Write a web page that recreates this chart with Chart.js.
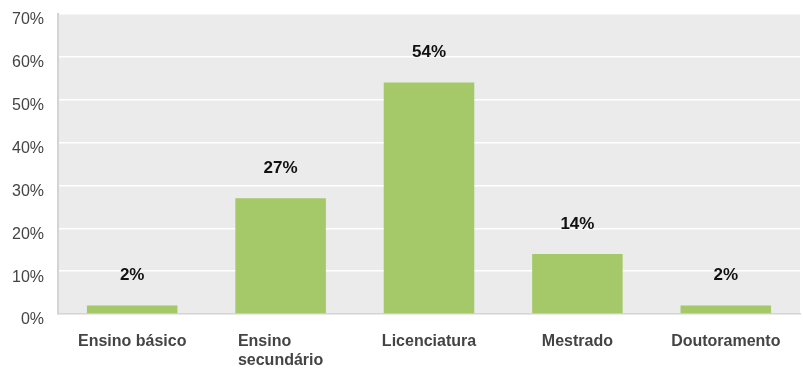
<!DOCTYPE html>
<html>
<head>
<meta charset="utf-8">
<script src="https://cdn.jsdelivr.net/npm/chart.js@4.4.1/dist/chart.umd.min.js"></script>
<style>
  html, body { margin: 0; padding: 0; background: #fff; }
  #wrap { width: 803px; height: 370px; }
</style>
</head>
<body>
<div id="wrap"><canvas id="grafico"></canvas></div>
<script>
const categorias = ["Ensino básico", ["Ensino", "secundário"], "Licenciatura", "Mestrado", "Doutoramento"];
const percentagens = [2, 27, 54, 14, 2];
const ticksY = [0, 10, 20, 30, 40, 50, 60, 70];

const corBarra = "#a5c968";
const corFundo = "#ebebeb";
const fonte = "'Liberation Sans', Arial, sans-serif";

// fundo cinzento da área do gráfico
const fundoArea = {
  id: "fundoArea",
  beforeDraw(chart) {
    const { ctx, chartArea: a } = chart;
    ctx.save();
    ctx.fillStyle = corFundo;
    ctx.fillRect(a.left, a.top, a.right - a.left, a.bottom - a.top);
    ctx.restore();
  }
};

// etiquetas de valor por cima das barras
const etiquetasValor = {
  id: "etiquetasValor",
  afterDatasetsDraw(chart) {
    const { ctx } = chart;
    const meta = chart.getDatasetMeta(0);
    ctx.save();
    ctx.font = "bold 17px " + fonte;
    ctx.fillStyle = "#111";
    ctx.textAlign = "center";
    ctx.textBaseline = "middle";
    meta.data.forEach((bar, i) => {
      ctx.fillText(percentagens[i] + "%", bar.x, bar.y - 30);
    });
    ctx.restore();
  }
};

// categorias do eixo x: bloco centrado, linhas alinhadas à esquerda
const etiquetasCategoria = {
  id: "etiquetasCategoria",
  afterDraw(chart) {
    const { ctx } = chart;
    const x = chart.scales.x;
    ctx.save();
    ctx.font = "bold 16px " + fonte;
    ctx.fillStyle = "#444";
    ctx.textAlign = "left";
    ctx.textBaseline = "middle";
    categorias.forEach((cat, i) => {
      const linhas = Array.isArray(cat) ? cat : [cat];
      const larg = Math.max(...linhas.map(l => ctx.measureText(l).width));
      const cx = x.getPixelForValue(i);
      linhas.forEach((l, j) => {
        ctx.fillText(l, cx - larg / 2, x.top + 28 + j * 19);
      });
    });
    ctx.restore();
  }
};

new Chart(document.getElementById("grafico"), {
  type: "bar",
  data: {
    labels: categorias,
    datasets: [{
      data: percentagens,
      backgroundColor: corBarra,
      borderWidth: 0,
      categoryPercentage: 0.61,
      barPercentage: 1
    }]
  },
  options: {
    responsive: true,
    maintainAspectRatio: false,
    animation: false,
    layout: { padding: { top: 14, right: 3, left: 0, bottom: 0 } },
    plugins: { legend: { display: false }, tooltip: { enabled: false } },
    scales: {
      x: {
        grid: { display: false, drawTicks: false },
        border: { color: "#d4d4d4", width: 1.5 },
        ticks: { display: false },
        afterFit(scale) { scale.height = 56; }
      },
      y: {
        min: 0,
        max: 70,
        afterBuildTicks(scale) { scale.ticks = ticksY.map(v => ({ value: v })); },
        grid: { color: "#ffffff", lineWidth: 1.5, drawTicks: false },
        border: { color: "#d4d4d4", width: 2 },
        ticks: {
          color: "#444",
          padding: 14,
          labelOffset: 6,
          font: { family: fonte, size: 16 },
          callback: v => v + "%"
        },
        afterFit(scale) {
          scale.width = 58;
          scale.paddingTop = 0;
          scale.paddingBottom = 0;
        }
      }
    }
  },
  plugins: [fundoArea, etiquetasValor, etiquetasCategoria]
});
</script>
</body>
</html>
